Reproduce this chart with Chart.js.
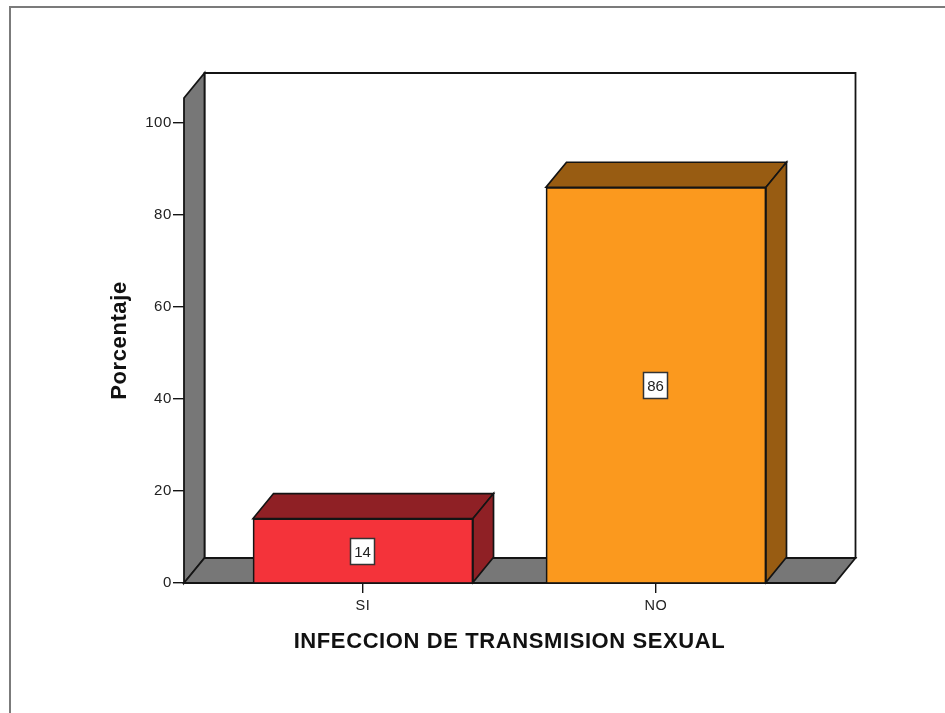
<!DOCTYPE html>
<html>
<head>
<meta charset="utf-8">
<style>
  html, body { margin: 0; padding: 0; background: #fff; overflow: hidden; }
  #wrap { position: relative; width: 945px; height: 713px; }
  #frame { position: absolute; left: 9px; top: 6px; right: -4px; bottom: -4px; border: 2px solid #7b7b7b; }
  canvas { position: absolute; left: 0; top: 0; }
</style>
</head>
<body>
<div id="wrap">
  <div id="frame"></div>
  <canvas id="main-chart" width="945" height="713"></canvas>
</div>
<script src="https://cdn.jsdelivr.net/npm/chart.js@4/dist/chart.umd.js"></script>
<script>
const categories = ['SI', 'NO'];
const porcentaje = [14, 86];
const yTicks = [0, 20, 40, 60, 80, 100];
const barColors = ['#f4333a', '#fb991e'];
const topColors = ['#8f2025', '#985c12'];

const DX = 20.5, DY = 25;
const ink = '#141414';

function poly(ctx, pts, fill) {
  ctx.beginPath();
  pts.forEach((p, i) => i ? ctx.lineTo(p[0], p[1]) : ctx.moveTo(p[0], p[1]));
  ctx.closePath();
  if (fill) { ctx.fillStyle = fill; ctx.fill(); }
  ctx.stroke();
}

const box3d = {
  id: 'box3d',
  beforeDraw(ch) {
    // the axis titles are a bit wider than plain Liberation Sans
    ch.ctx.letterSpacing = '0.6px';
  },
  // back wall, side wall and floor, behind the bars
  beforeDatasetsDraw(ch) {
    const ctx = ch.ctx, a = ch.chartArea;
    ctx.save();
    ctx.strokeStyle = ink; ctx.lineWidth = 1.8; ctx.lineJoin = 'miter';
    poly(ctx, [[a.left + DX, a.top - DY], [a.right + DX, a.top - DY], [a.right + DX, a.bottom - DY], [a.left + DX, a.bottom - DY]], '#ffffff');
    poly(ctx, [[a.left, a.top], [a.left + DX, a.top - DY], [a.left + DX, a.bottom - DY], [a.left, a.bottom]], '#777777');
    poly(ctx, [[a.left, a.bottom], [a.right, a.bottom], [a.right + DX, a.bottom - DY], [a.left + DX, a.bottom - DY]], '#777777');
    ctx.restore();
  },
  // top and side of each bar, then the value boxes
  afterDatasetsDraw(ch) {
    const ctx = ch.ctx, meta = ch.getDatasetMeta(0), y = ch.scales.y;
    ctx.save();
    ctx.strokeStyle = ink; ctx.lineWidth = 1.7; ctx.lineJoin = 'miter';
    meta.data.forEach((bar, i) => {
      const l = bar.x - bar.width / 2, r = bar.x + bar.width / 2, t = bar.y, b = bar.base;
      poly(ctx, [[l, t], [r, t], [r + DX, t - DY], [l + DX, t - DY]], topColors[i]);
      poly(ctx, [[r, t], [r + DX, t - DY], [r + DX, b - DY], [r, b]], topColors[i]);
    });
    ctx.letterSpacing = '0px';
    ctx.font = '15px "Liberation Sans", Arial, sans-serif';
    ctx.textAlign = 'center'; ctx.textBaseline = 'middle';
    meta.data.forEach((bar, i) => {
      const cy = Math.round(y.getPixelForValue(porcentaje[i] / 2)) + 0.5, cx = Math.round(bar.x) - 0.5;
      ctx.fillStyle = '#fff'; ctx.lineWidth = 1.5; ctx.strokeStyle = '#333';
      ctx.fillRect(cx - 12, cy - 13, 24, 26);
      ctx.strokeRect(cx - 12, cy - 13, 24, 26);
      ctx.fillStyle = '#222';
      ctx.fillText(String(porcentaje[i]), cx, cy + 1);
    });
    ctx.restore();
  }
};

new Chart(document.getElementById('main-chart'), {
  type: 'bar',
  data: {
    datasets: [{
      label: 'Porcentaje',
      data: categories.map((c, i) => ({ x: i, y: porcentaje[i] })),
      backgroundColor: barColors,
      borderColor: ink,
      borderWidth: 1.7,
      barThickness: 220,
    }]
  },
  options: {
    responsive: false,
    animation: false,
    layout: { padding: { left: 0, top: 98, right: 110, bottom: 0 } },
    plugins: { legend: { display: false }, tooltip: { enabled: false } },
    scales: {
      x: {
        type: 'linear',
        offset: false,
        min: -0.611, max: 1.611,
        afterBuildTicks: s => { s.ticks = categories.map((c, i) => ({ value: i })); },
        afterFit: s => { s.height = 130; },
        grid: { display: true, offset: false, drawOnChartArea: false, drawTicks: true, tickLength: 10, color: ink, lineWidth: 1.4 },
        border: { display: false },
        ticks: { color: '#222', padding: 4, maxRotation: 0, autoSkip: false, font: { family: 'Liberation Sans', size: 14.5 }, callback: v => categories[v] },
        title: { display: true, text: 'INFECCION DE TRANSMISION SEXUAL', color: '#111', padding: { top: 13, bottom: 58 }, font: { family: 'Liberation Sans', size: 22, weight: 'bold' } },
      },
      y: {
        min: 0, max: 105.4,
        afterBuildTicks: s => { s.ticks = yTicks.map(v => ({ value: v })); },
        afterFit: s => { s.width = 184; },
        grid: { display: true, drawOnChartArea: false, drawTicks: true, tickLength: 11, color: ink, lineWidth: 1.4 },
        border: { display: false },
        ticks: { color: '#222', padding: 1, font: { family: 'Liberation Sans', size: 15 } },
        title: { display: true, text: 'Porcentaje', color: '#111', padding: { top: 107, bottom: 0 }, font: { family: 'Liberation Sans', size: 22, weight: 'bold' } },
      }
    }
  },
  plugins: [box3d]
});
</script>
</body>
</html>
